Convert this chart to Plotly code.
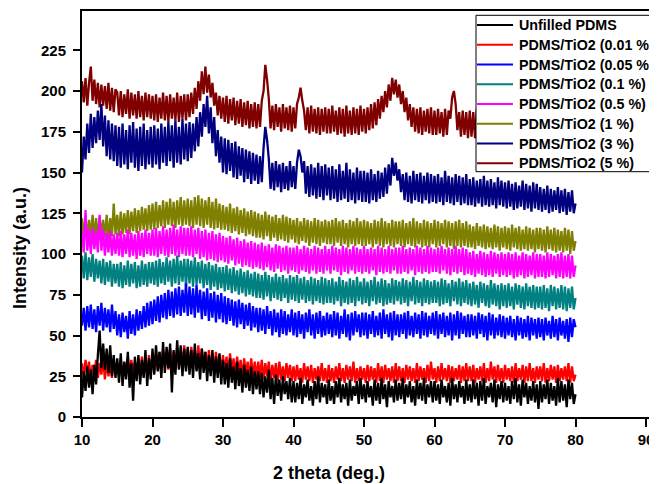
import numpy as np
import plotly.graph_objects as go

# Scan range of every pattern (2 theta, degrees); samples evenly spaced, 0.25 deg apart
scan_start, scan_end = 10, 80

series_names = ["Unfilled PDMS", "PDMS/TiO2 (0.01 %)", "PDMS/TiO2 (0.05 %)", "PDMS/TiO2 (0.1 %)",
                "PDMS/TiO2 (0.5 %)", "PDMS/TiO2 (1 %)", "PDMS/TiO2 (3 %)", "PDMS/TiO2 (5 %)"]

unfilled = [
    12, 28, 16, 31, 18, 29, 14, 32, 20, 38, 53, 30, 45, 29, 42, 27, 44, 25, 38, 24,
    36, 21, 39, 19, 34, 23, 40, 18, 33, 10, 37, 22, 38, 20, 35, 24, 41, 19, 36, 23,
    42, 26, 44, 28, 40, 24, 46, 27, 43, 30, 45, 15, 41, 26, 47, 29, 44, 25, 42, 28,
    43, 26, 41, 24, 45, 28, 39, 23, 42, 27, 40, 22, 38, 25, 41, 21, 37, 24, 39, 20,
    35, 20, 33, 18, 36, 21, 31, 17, 34, 19, 30, 15, 32, 18, 29, 16, 31, 14, 28, 17,
    28, 14, 27, 12, 25, 15, 29, 11, 24, 8, 26, 13, 23, 10, 25, 14, 22, 11, 24, 9,
    22, 9, 21, 11, 24, 8, 20, 12, 23, 10, 19, 7, 22, 11, 25, 9, 21, 12, 20, 8,
    23, 10, 19, 8, 22, 12, 24, 9, 20, 11, 21, 7, 23, 10, 19, 13, 22, 8, 24, 11,
    20, 9, 22, 12, 19, 7, 23, 10, 21, 8, 24, 11, 20, 6, 22, 12, 19, 9, 23, 10,
    21, 11, 24, 8, 20, 12, 22, 9, 19, 7, 23, 11, 21, 10, 24, 8, 20, 12, 22, 9,
    22, 10, 20, 8, 23, 12, 19, 9, 21, 7, 24, 11, 20, 9, 22, 12, 19, 8, 23, 10,
    20, 9, 23, 11, 21, 7, 22, 10, 24, 8, 19, 12, 21, 9, 23, 6, 20, 11, 22, 9,
    21, 10, 19, 8, 22, 11, 24, 9, 20, 7, 23, 12, 21, 8, 19, 10, 22, 9, 20, 5,
    22, 9, 20, 11, 23, 8, 21, 10, 19, 7, 24, 9, 22, 10, 20, 6, 23, 11, 21, 8,
    14]

tio2_001 = [
    33, 24, 35, 26, 34, 23, 32, 25, 35, 24, 33, 26, 36, 23, 34, 25, 32, 24, 35, 26,
    34, 25, 36, 24, 33, 26, 37, 25, 35, 27, 34, 24, 36, 26, 37, 25, 35, 27, 38, 26,
    38, 28, 39, 29, 40, 27, 41, 30, 39, 29, 42, 31, 40, 29, 43, 30, 41, 32, 44, 30,
    42, 30, 43, 31, 41, 29, 44, 30, 42, 32, 40, 28, 41, 30, 39, 27, 40, 29, 38, 28,
    38, 27, 37, 26, 39, 28, 36, 25, 37, 27, 35, 24, 36, 26, 34, 23, 36, 25, 34, 24,
    34, 24, 35, 23, 33, 25, 34, 22, 32, 24, 33, 22, 34, 23, 31, 22, 33, 24, 32, 22,
    31, 22, 32, 23, 30, 21, 33, 23, 31, 22, 32, 21, 30, 23, 31, 22, 33, 22, 30, 21,
    32, 22, 30, 21, 31, 23, 33, 22, 30, 21, 32, 23, 31, 22, 34, 21, 30, 22, 31, 23,
    30, 21, 32, 22, 31, 23, 30, 21, 33, 22, 31, 21, 32, 23, 30, 22, 31, 21, 33, 22,
    31, 22, 30, 21, 32, 23, 31, 22, 30, 21, 33, 22, 31, 23, 30, 21, 32, 22, 34, 23,
    30, 21, 31, 22, 33, 23, 30, 22, 32, 21, 31, 22, 30, 23, 32, 21, 31, 22, 33, 22,
    31, 22, 32, 21, 30, 23, 31, 22, 33, 21, 30, 22, 34, 23, 31, 21, 32, 22, 30, 21,
    32, 23, 30, 22, 31, 21, 33, 22, 30, 23, 32, 21, 31, 22, 33, 22, 30, 21, 31, 23,
    31, 22, 33, 21, 30, 22, 32, 23, 31, 21, 32, 22, 30, 23, 31, 22, 33, 21, 31, 22,
    26]

tio2_005 = [
    56, 67, 53, 68, 55, 69, 54, 66, 52, 68, 56, 70, 53, 67, 55, 66, 52, 69, 54, 65,
    50, 63, 49, 64, 52, 62, 48, 65, 51, 63, 50, 66, 53, 65, 54, 68, 55, 70, 56, 71,
    57, 72, 59, 74, 58, 75, 61, 76, 60, 78, 62, 77, 61, 79, 63, 80, 62, 78, 64, 82,
    62, 80, 63, 79, 61, 81, 64, 78, 60, 77, 62, 79, 59, 76, 61, 77, 58, 75, 60, 76,
    58, 74, 57, 73, 59, 72, 56, 71, 55, 72, 57, 70, 54, 69, 56, 70, 53, 68, 55, 67,
    52, 67, 53, 66, 51, 68, 54, 65, 50, 66, 52, 64, 49, 66, 51, 65, 50, 63, 52, 66,
    50, 64, 49, 65, 51, 63, 48, 64, 52, 66, 50, 63, 48, 64, 51, 65, 49, 62, 50, 64,
    51, 63, 49, 65, 50, 64, 48, 62, 51, 66, 49, 63, 47, 64, 50, 65, 52, 63, 49, 64,
    50, 64, 48, 63, 51, 65, 49, 62, 50, 64, 48, 66, 51, 63, 49, 64, 47, 65, 50, 63,
    49, 63, 51, 64, 48, 65, 50, 62, 49, 64, 51, 63, 48, 65, 50, 64, 49, 62, 51, 64,
    50, 65, 48, 63, 51, 64, 49, 62, 50, 64, 47, 63, 50, 65, 48, 64, 51, 62, 49, 63,
    49, 63, 50, 62, 48, 64, 51, 63, 49, 62, 47, 64, 50, 63, 48, 61, 50, 63, 49, 62,
    48, 61, 50, 62, 49, 60, 47, 62, 50, 61, 48, 60, 49, 62, 47, 61, 50, 60, 48, 61,
    49, 60, 47, 61, 50, 59, 48, 62, 49, 60, 47, 61, 50, 59, 48, 60, 46, 61, 49, 60,
    55]

tio2_01 = [
    99, 85, 101, 84, 98, 86, 100, 83, 97, 85, 96, 82, 97, 81, 95, 83, 96, 80, 94, 82,
    94, 80, 95, 79, 93, 81, 96, 80, 94, 82, 95, 79, 93, 80, 96, 81, 94, 80, 95, 82,
    95, 81, 96, 80, 97, 82, 95, 81, 98, 83, 96, 80, 97, 82, 99, 81, 96, 83, 97, 80,
    97, 82, 96, 80, 98, 81, 95, 82, 96, 79, 94, 81, 95, 78, 93, 80, 94, 78, 92, 79,
    92, 77, 93, 78, 91, 76, 92, 77, 90, 75, 91, 76, 89, 74, 90, 75, 88, 74, 89, 73,
    88, 73, 87, 72, 89, 74, 87, 71, 86, 73, 88, 72, 86, 71, 87, 73, 85, 70, 87, 72,
    86, 71, 87, 70, 85, 72, 86, 70, 84, 71, 86, 69, 85, 71, 84, 70, 86, 69, 85, 70,
    84, 70, 85, 69, 83, 71, 86, 68, 84, 70, 83, 69, 85, 70, 84, 68, 86, 71, 83, 69,
    85, 70, 83, 68, 84, 71, 86, 69, 83, 70, 85, 68, 84, 69, 82, 70, 85, 69, 84, 71,
    83, 69, 85, 70, 84, 68, 83, 71, 86, 69, 84, 70, 83, 68, 85, 70, 84, 69, 83, 70,
    84, 70, 83, 68, 85, 69, 84, 70, 82, 68, 84, 71, 83, 69, 85, 68, 83, 70, 84, 69,
    82, 68, 83, 69, 81, 67, 83, 70, 82, 68, 81, 67, 84, 69, 82, 68, 81, 66, 82, 68,
    81, 67, 82, 68, 80, 66, 82, 69, 81, 67, 80, 66, 82, 68, 80, 67, 81, 66, 80, 67,
    80, 66, 81, 67, 79, 65, 81, 68, 80, 66, 79, 67, 81, 66, 80, 65, 79, 67, 80, 66,
    73]

tio2_05 = [
    114, 101, 127, 102, 115, 100, 116, 103, 114, 101, 124, 102, 115, 99, 113, 101, 114, 99, 112, 100,
    113, 99, 114, 98, 112, 100, 115, 98, 113, 99, 112, 97, 114, 99, 113, 98, 115, 100, 113, 99,
    115, 99, 116, 98, 114, 100, 117, 99, 115, 98, 116, 100, 118, 99, 115, 98, 117, 100, 116, 99,
    116, 99, 117, 98, 115, 100, 116, 97, 114, 98, 115, 96, 113, 97, 114, 96, 112, 95, 113, 96,
    111, 95, 110, 94, 111, 96, 109, 93, 110, 94, 108, 92, 109, 93, 107, 92, 108, 91, 107, 92,
    106, 91, 107, 90, 105, 92, 106, 90, 104, 89, 106, 91, 105, 89, 104, 90, 105, 88, 104, 90,
    104, 89, 105, 88, 103, 90, 105, 89, 104, 88, 103, 90, 105, 88, 104, 89, 103, 88, 105, 90,
    103, 88, 105, 90, 104, 89, 103, 87, 105, 89, 104, 88, 103, 90, 105, 88, 104, 89, 103, 88,
    105, 89, 103, 88, 104, 90, 103, 87, 105, 89, 104, 88, 103, 89, 105, 88, 103, 90, 104, 88,
    104, 88, 105, 89, 103, 88, 104, 90, 103, 87, 105, 89, 104, 88, 103, 89, 105, 88, 104, 89,
    103, 89, 104, 88, 105, 90, 103, 88, 104, 87, 103, 89, 105, 88, 103, 89, 104, 87, 103, 88,
    101, 87, 102, 86, 100, 88, 102, 87, 101, 86, 100, 87, 102, 86, 101, 88, 100, 86, 101, 87,
    100, 86, 101, 87, 100, 85, 101, 86, 99, 87, 101, 85, 100, 86, 99, 87, 101, 85, 100, 86,
    100, 86, 99, 85, 101, 86, 100, 87, 99, 85, 100, 86, 101, 85, 99, 86, 100, 85, 99, 86,
    93]

tio2_1 = [
    122, 110, 123, 109, 121, 111, 124, 110, 122, 109, 123, 111, 121, 110, 124, 109, 122, 111, 131, 112,
    124, 111, 126, 112, 125, 113, 127, 112, 126, 114, 128, 113, 127, 114, 129, 115, 128, 114, 130, 115,
    131, 115, 132, 116, 130, 117, 133, 116, 132, 118, 134, 117, 132, 116, 133, 118, 135, 117, 133, 118,
    134, 117, 133, 116, 135, 118, 136, 117, 134, 116, 133, 118, 135, 116, 132, 115, 134, 116, 131, 115,
    130, 115, 129, 114, 131, 113, 128, 114, 129, 112, 127, 113, 128, 111, 126, 112, 127, 111, 126, 110,
    125, 110, 124, 109, 126, 111, 124, 108, 123, 110, 124, 108, 122, 109, 124, 108, 123, 107, 122, 109,
    121, 107, 122, 106, 120, 108, 122, 107, 121, 105, 120, 107, 122, 106, 121, 105, 120, 107, 121, 106,
    120, 106, 121, 105, 122, 107, 120, 105, 121, 106, 119, 104, 121, 106, 120, 105, 122, 106, 120, 105,
    121, 105, 120, 106, 119, 104, 121, 106, 120, 105, 122, 104, 120, 106, 119, 105, 121, 104, 120, 106,
    120, 105, 121, 104, 119, 106, 120, 105, 122, 104, 120, 106, 119, 104, 121, 105, 120, 104, 119, 106,
    121, 104, 120, 105, 119, 106, 121, 104, 120, 105, 119, 103, 120, 105, 121, 104, 119, 105, 120, 104,
    118, 104, 117, 103, 119, 105, 117, 104, 118, 103, 117, 104, 116, 103, 118, 104, 117, 102, 116, 104,
    117, 103, 116, 102, 118, 104, 116, 103, 117, 102, 115, 103, 117, 102, 116, 103, 115, 101, 116, 103,
    116, 102, 115, 101, 117, 103, 115, 102, 116, 101, 115, 102, 114, 101, 116, 102, 115, 100, 114, 102,
    108]

tio2_3 = [
    150, 172, 158, 180, 162, 186, 165, 184, 168, 188, 170, 192, 166, 185, 160, 182, 158, 180, 157, 179,
    154, 178, 153, 180, 155, 176, 152, 179, 156, 181, 153, 177, 151, 178, 154, 180, 152, 176, 155, 178,
    153, 179, 155, 177, 152, 180, 156, 178, 154, 181, 157, 179, 153, 182, 156, 178, 155, 183, 158, 180,
    157, 181, 159, 180, 163, 184, 166, 187, 172, 192, 178, 197, 174, 190, 168, 184, 160, 176, 156, 172,
    150, 171, 149, 170, 151, 168, 147, 169, 146, 166, 148, 165, 144, 164, 146, 163, 143, 162, 145, 161,
    143, 160, 144, 165, 178, 170, 158, 140, 156, 139, 157, 141, 155, 138, 156, 140, 154, 139, 157, 141,
    154, 140, 156, 164, 160, 150, 157, 137, 154, 135, 155, 136, 153, 134, 156, 135, 154, 133, 155, 136,
    153, 133, 154, 134, 152, 132, 155, 133, 151, 134, 156, 132, 152, 133, 150, 131, 153, 133, 151, 132,
    151, 132, 150, 131, 152, 133, 149, 132, 151, 134, 150, 135, 153, 137, 155, 142, 159, 148, 156, 145,
    152, 138, 149, 133, 150, 132, 148, 131, 151, 133, 149, 132, 150, 131, 148, 133, 150, 131, 149, 132,
    148, 131, 149, 132, 147, 130, 151, 132, 148, 131, 147, 130, 149, 132, 148, 130, 147, 131, 149, 130,
    146, 130, 147, 129, 145, 131, 146, 129, 148, 130, 145, 129, 146, 130, 144, 128, 147, 130, 145, 129,
    144, 128, 145, 129, 143, 127, 144, 128, 142, 129, 145, 127, 143, 128, 142, 126, 144, 128, 143, 127,
    141, 126, 140, 127, 142, 125, 140, 126, 139, 127, 141, 125, 139, 126, 140, 124, 138, 126, 139, 125,
    131]

tio2_5 = [
    206, 193, 208, 191, 205, 215, 194, 207, 192, 205, 190, 204, 191, 203, 189, 205, 188, 202, 187, 201,
    199, 185, 200, 184, 198, 186, 201, 183, 199, 185, 198, 183, 200, 184, 197, 182, 199, 184, 198, 183,
    197, 182, 198, 181, 196, 183, 199, 182, 197, 181, 198, 183, 196, 182, 199, 181, 197, 183, 198, 182,
    198, 184, 199, 186, 202, 189, 206, 194, 212, 198, 215, 199, 210, 196, 205, 191, 199, 185, 197, 183,
    196, 181, 197, 180, 195, 182, 196, 179, 194, 180, 195, 178, 193, 179, 194, 177, 192, 178, 193, 177,
    192, 178, 194, 200, 216, 207, 195, 177, 191, 176, 192, 178, 190, 175, 192, 177, 190, 176, 191, 175,
    190, 177, 192, 196, 202, 194, 188, 176, 190, 174, 191, 175, 189, 174, 190, 173, 189, 175, 190, 174,
    189, 174, 191, 175, 188, 173, 190, 174, 189, 172, 191, 174, 188, 173, 190, 174, 189, 173, 191, 175,
    189, 174, 190, 176, 192, 177, 193, 179, 195, 183, 197, 187, 200, 190, 204, 194, 208, 198, 207, 196,
    204, 192, 200, 187, 196, 182, 192, 178, 190, 175, 189, 174, 190, 173, 188, 175, 189, 174, 190, 173,
    188, 173, 189, 174, 187, 172, 189, 173, 188, 183, 196, 200, 192, 176, 187, 172, 188, 173, 187, 171,
    188, 172, 187, 171, 189, 173, 187, 170, 188, 172, 186, 171, 188, 172, 187, 170, 189, 172, 187, 171,
    187, 171, 188, 170, 186, 172, 188, 171, 187, 170, 186, 171, 188, 170, 187, 172, 186, 170, 187, 171,
    186, 170, 187, 171, 185, 169, 187, 170, 186, 171, 185, 169, 187, 170, 186, 171, 185, 169, 186, 170,
    178]

x_ticks = [10, 20, 30, 40, 50, 60, 70, 80, 90]
y_ticks = [0, 25, 50, 75, 100, 125, 150, 175, 200, 225]

series_values = [unfilled, tio2_001, tio2_005, tio2_01, tio2_05, tio2_1, tio2_3, tio2_5]
colors = ["#000000", "#FF0000", "#0000FF", "#008080", "#FF00FF", "#808000", "#000080", "#800000"]

FONT = "Liberation Sans, Arial, sans-serif"

# ---- page geometry (the page body adds an 8 px offset) ----
OFF = 8
FIG_W, FIG_H = 649, 476
ML, MT, MB, MR = 74, 3, 67, 0
PW, PH = FIG_W - ML - MR, FIG_H - MT - MB


def px_x(wx):
    return (wx - OFF - ML) / PW


def px_y(wy):
    return (FIG_H - MB - (wy - OFF)) / PH


fig = go.Figure()
# draw last series first so the lower curves sit on top
for name, vals, col in reversed(list(zip(series_names, series_values, colors))):
    x = np.linspace(scan_start, scan_end, len(vals))
    fig.add_trace(go.Scatter(x=x, y=vals, mode="lines", name=name, showlegend=False,
                             line=dict(color=col, width=2.3, simplify=False)))

# ---- legend box drawn as shapes + annotations (exact geometry) ----
shapes = [dict(type="rect", xref="paper", yref="paper", layer="above",
               x0=px_x(476), x1=px_x(720), y0=px_y(171.7), y1=px_y(15.3),
               fillcolor="white", line=dict(color="black", width=1))]
annotations = []
row0, row_step = 25.0, 19.76
for i, (name, col) in enumerate(zip(series_names, colors)):
    yy = row0 + i * row_step
    shapes.append(dict(type="line", xref="paper", yref="paper", layer="above",
                       x0=px_x(477), x1=px_x(513), y0=px_y(yy), y1=px_y(yy),
                       line=dict(color=col, width=2)))
    annotations.append(dict(text=name, xref="paper", yref="paper", x=px_x(517), y=px_y(yy),
                            xanchor="left", yanchor="middle", showarrow=False,
                            font=dict(family=FONT, size=14.3, color="black", weight="bold")))

annotations += [
    dict(text="Intensity (a.u.)", xref="paper", yref="paper", x=px_x(20), y=px_y(248),
         xanchor="center", yanchor="middle", textangle=-90, showarrow=False,
         font=dict(family=FONT, size=18, color="black", weight="bold")),
    dict(text="2 theta (deg.)", xref="paper", yref="paper", x=px_x(329), y=px_y(473),
         xanchor="center", yanchor="middle", showarrow=False,
         font=dict(family=FONT, size=18, color="black", weight="bold")),
]

fig.update_layout(
    width=FIG_W, height=FIG_H,
    margin=dict(l=ML, r=MR, t=MT, b=MB, autoexpand=False),
    paper_bgcolor="white", plot_bgcolor="white",
    showlegend=False,
    xaxis=dict(range=[10, 10 + PW / 7.05], tickmode="array", tickvals=x_ticks,
               ticks="outside", ticklen=8, tickwidth=2, tickcolor="black",
               showline=True, linewidth=2, linecolor="black", mirror=True,
               showgrid=False, zeroline=False,
               tickfont=dict(family=FONT, size=15, color="black", weight="bold")),
    yaxis=dict(range=[0, PH / 1.63], tickmode="array", tickvals=y_ticks,
               ticks="outside", ticklen=7, tickwidth=2, tickcolor="black",
               showline=True, linewidth=2, linecolor="black",
               showgrid=False, zeroline=False, ticklabelstandoff=4,
               tickfont=dict(family=FONT, size=15, color="black", weight="bold")),
    shapes=shapes,
    annotations=annotations,
)

fig.write_html("out.html")
